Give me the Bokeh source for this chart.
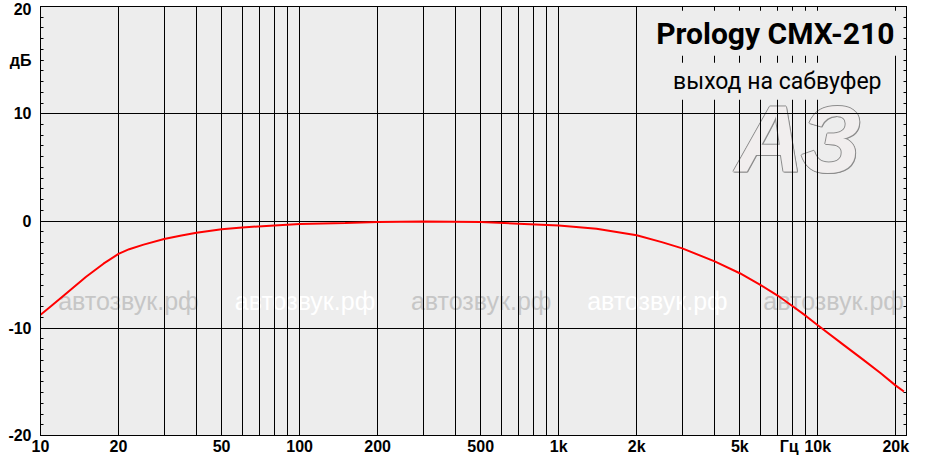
from bokeh.plotting import figure
from bokeh.models import FixedTicker, LinearAxis, Label, Range1d
from bokeh.core.properties import value
from bokeh.embed import file_html
from bokeh.resources import INLINE

# ---- data ----
freq_hz = [10, 11, 12.5, 15, 17.5, 20, 22, 25, 30, 35, 40, 50, 60, 80, 100, 150,
           200, 300, 500, 700, 1000, 1400, 2000, 2500, 3000, 4000, 5000, 6000,
           7000, 8000, 9000, 10000, 12500, 15000, 17500, 20000, 21500]
level_db = [-8.75, -7.92, -6.8, -5.2, -3.98, -3.07, -2.63, -2.2, -1.68, -1.35,
            -1.1, -0.78, -0.6, -0.41, -0.28, -0.18, -0.1, -0.05, -0.1, -0.25,
            -0.42, -0.72, -1.33, -1.97, -2.55, -3.77, -4.87, -5.95, -6.95, -7.95,
            -8.85, -9.72, -11.5, -12.95, -14.2, -15.35, -15.9]

x_tick_values = [10, 20, 50, 100, 200, 500, 1000, 2000, 5000, 7760, 10000, 20000]
x_tick_labels = ["10", "20", "50", "100", "200", "500", "1k", "2k", "5k", "Гц", "10k", "20k"]
x_grid_values = [20, 30, 40, 50, 60, 70, 80, 90,
                 100, 200, 300, 400, 500, 600, 700, 800, 900,
                 1000, 2000, 3000, 4000, 5000, 6000, 7000, 8000, 9000,
                 10000, 20000]
y_tick_values = [-20, -10, 0, 10, 15, 20]
y_tick_labels = ["-20", "-10", "0", "10", "дБ", "20"]
y_grid_values = [-10, 0, 10]
y_minor_values = list(range(-20, 21))

title_text = "Prology CMX-210"
subtitle_text = "выход на сабвуфер"
watermark_text = "автозвук.рф"
watermark_freqs = [11.7, 56.2, 269, 1288, 6166]
watermark_colors = ["#c6c6c6", "#ffffff", "#c6c6c6", "#ffffff", "#c6c6c6"]
logo_text = "АЗ"

BG = "#ededed"
TICK_FONT = "Liberation Sans"

p = figure(width=911, height=457, x_axis_type="log",
           x_range=Range1d(10, 22000), y_range=Range1d(-20, 20),
           output_backend="svg", toolbar_location=None,
           min_border_left=40, min_border_right=5,
           min_border_top=6, min_border_bottom=20)
p.background_fill_color = BG
p.border_fill_color = "white"
p.outline_line_color = "black"
p.outline_line_alpha = 1
p.outline_line_width = 1

# grids
p.xgrid.ticker = FixedTicker(ticks=x_grid_values)
p.ygrid.ticker = FixedTicker(ticks=y_grid_values)
for g in (p.xgrid, p.ygrid):
    g.grid_line_color = "black"
    g.grid_line_alpha = 1
    g.grid_line_width = 1

# x axis
xa = p.xaxis[0]
xa.ticker = FixedTicker(ticks=x_tick_values)
xa.major_label_overrides = dict(zip(x_tick_values, x_tick_labels))
xa.major_tick_in = 0
xa.major_tick_out = 0
xa.minor_tick_in = 0
xa.minor_tick_out = 0
xa.axis_line_color = "black"
xa.major_label_standoff = 2
xa.major_label_text_font = TICK_FONT
xa.major_label_text_font_style = "bold"
xa.major_label_text_font_size = "16px"
xa.major_label_text_color = "black"

# y axis
ya = p.yaxis[0]
ya.ticker = FixedTicker(ticks=y_tick_values, minor_ticks=y_minor_values)
ya.major_label_overrides = dict(zip(y_tick_values, y_tick_labels))
ya.major_tick_in = 3
ya.major_tick_out = 0
ya.minor_tick_in = 3
ya.minor_tick_out = 0
ya.major_tick_line_color = "black"
ya.minor_tick_line_color = "black"
ya.axis_line_color = "black"
ya.major_label_standoff = 9
ya.major_label_text_font = TICK_FONT
ya.major_label_text_font_style = "bold"
ya.major_label_text_font_size = "16px"
ya.major_label_text_color = "black"

# right axis with inner minor ticks only
ra = LinearAxis(ticker=FixedTicker(ticks=[-20, -10, 0, 10, 20], minor_ticks=y_minor_values),
                major_label_overrides={v: "" for v in [-20, -10, 0, 10, 20]},
                major_label_text_font_size="0px", major_label_standoff=0,
                major_tick_in=3, major_tick_out=0, minor_tick_in=3, minor_tick_out=0,
                major_tick_line_color="black", minor_tick_line_color="black",
                axis_line_color="black")
p.add_layout(ra, "right")

# watermarks (below grid)
p.text(x=watermark_freqs, y=[-7.47] * len(watermark_freqs),
       text=[watermark_text] * len(watermark_freqs), text_color=watermark_colors,
       text_font=value("Liberation Sans"), text_font_size="25px",
       text_align="left", text_baseline="middle", level="image")

for dx, dy in [(-1, 0), (1, 0), (0, -1), (0, 1), (1, 1)]:
    p.text(x=[8410], y=[7.6], text=[logo_text], text_color="#8c8c8c",
           text_font=value("Liberation Sans"), text_font_style="bold italic",
           text_font_size="95px", text_align="center", text_baseline="alphabetic",
           x_offset=dx, y_offset=dy, level="image")
p.text(x=[8410], y=[7.6], text=[logo_text], text_color="#f1eeee",
       text_font=value("Liberation Sans"), text_font_style="bold italic",
       text_font_size="95px", text_align="center", text_baseline="alphabetic",
       level="image")

# response curve
p.line(freq_hz, level_db, line_color="#ff0000", line_width=2)

# title boxes
p.add_layout(Label(x=6855, y=17.5, text=title_text, text_font="Roboto",
                   text_font_style="bold", text_font_size="30px", text_color="black",
                   text_align="center", text_baseline="middle",
                   background_fill_color=BG, padding=5))
p.add_layout(Label(x=6980, y=13.04, text=subtitle_text, text_font="Roboto",
                   text_font_size="23px", text_color="black",
                   text_align="center", text_baseline="middle",
                   background_fill_color=BG, padding=5))

open("out.html", "w").write(file_html(p, INLINE))
